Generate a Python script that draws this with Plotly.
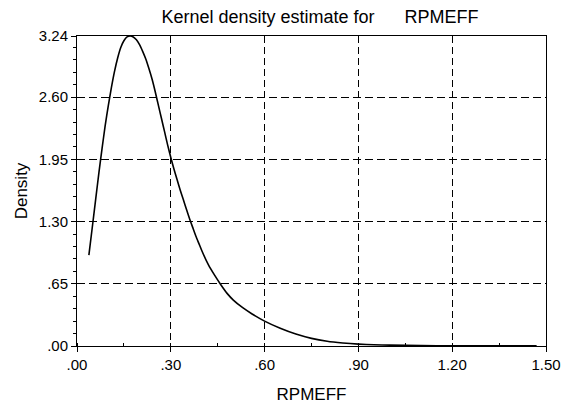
import plotly.graph_objects as go

# Density curve
rpmeff = [0.038, 0.05, 0.06, 0.07, 0.08, 0.09, 0.10, 0.11, 0.12, 0.13,
          0.14, 0.15, 0.16, 0.17, 0.18, 0.19, 0.20, 0.21, 0.22, 0.23,
          0.24, 0.25, 0.26, 0.27, 0.28, 0.29, 0.30, 0.31, 0.32, 0.33,
          0.34, 0.35, 0.36, 0.37, 0.38, 0.39, 0.40, 0.42, 0.44, 0.46,
          0.48, 0.50, 0.53, 0.56, 0.60, 0.65, 0.70, 0.75, 0.80, 0.85,
          0.90, 0.95, 1.00, 1.10, 1.20, 1.30, 1.47]
density = [0.95, 1.27, 1.54, 1.81, 2.06, 2.30, 2.51, 2.70, 2.87, 3.01,
           3.12, 3.19, 3.23, 3.24, 3.23, 3.20, 3.15, 3.08, 3.00, 2.90,
           2.79, 2.66, 2.52, 2.38, 2.24, 2.10, 1.97, 1.85, 1.74, 1.63,
           1.53, 1.43, 1.33, 1.24, 1.15, 1.07, 0.99, 0.85, 0.74, 0.64,
           0.55, 0.48, 0.40, 0.335, 0.26, 0.185, 0.125, 0.08, 0.05, 0.032,
           0.02, 0.013, 0.009, 0.0045, 0.0025, 0.0015, 0.001]

x_ticks = [0.0, 0.30, 0.60, 0.90, 1.20, 1.50]
x_labels = [".00", ".30", ".60", ".90", "1.20", "1.50"]
y_ticks = [0.0, 0.65, 1.30, 1.95, 2.60, 3.24]
y_labels = [".00", ".65", "1.30", "1.95", "2.60", "3.24"]

FONT = "Liberation Sans, Arial, Helvetica, sans-serif"
W, H = 563, 407

fig = go.Figure()
fig.add_trace(go.Scatter(x=rpmeff, y=density, mode="lines",
                         line=dict(color="black", width=1.6, shape="spline", smoothing=0.6),
                         showlegend=False, hoverinfo="skip"))

fig.update_layout(
    width=W, height=H,
    margin=dict(l=77, r=17, t=36, b=61, autoexpand=False),
    paper_bgcolor="white", plot_bgcolor="white",
    font=dict(family=FONT, size=15, color="black"),
    title=dict(text="Kernel density estimate for\u00a0\u00a0\u00a0\u00a0\u00a0\u00a0RPMEFF",
               x=320 / W, xanchor="center", xref="container",
               y=1 - 17 / H, yanchor="middle", yref="container",
               font=dict(family=FONT, size=18, color="black")),
)

fig.update_xaxes(
    range=[0, 1.5], tickmode="array", tickvals=x_ticks, ticktext=x_labels,
    showline=True, linecolor="black", linewidth=1, mirror=True,
    ticks="outside", ticklen=5, tickcolor="black", tickwidth=1,
    showgrid=True, gridcolor="black", gridwidth=1, griddash="7px,4px",
    zeroline=False,
    minor=dict(tickmode="linear", tick0=0, dtick=0.15, ticks="inside", ticklen=3,
               tickcolor="black", showgrid=False),
    title=dict(text="RPMEFF", font=dict(family=FONT, size=17), standoff=16),
)
fig.update_yaxes(
    range=[0, 3.24], tickmode="array", tickvals=y_ticks, ticktext=y_labels,
    showline=True, linecolor="black", linewidth=1, mirror=True,
    ticks="outside", ticklen=5, tickcolor="black", tickwidth=1,
    showgrid=True, gridcolor="black", gridwidth=1, griddash="8px,4px",
    zeroline=False,
    minor=dict(tickmode="linear", tick0=0, dtick=0.13, ticks="outside", ticklen=3,
               tickcolor="black", showgrid=False),
    title=dict(text="Density", font=dict(family=FONT, size=17), standoff=6),
)

fig.write_html("out.html",
               config={"displayModeBar": False, "staticPlot": True},
               post_script="document.body.style.margin='0px';"
                           "document.body.style.overflow='hidden';")
